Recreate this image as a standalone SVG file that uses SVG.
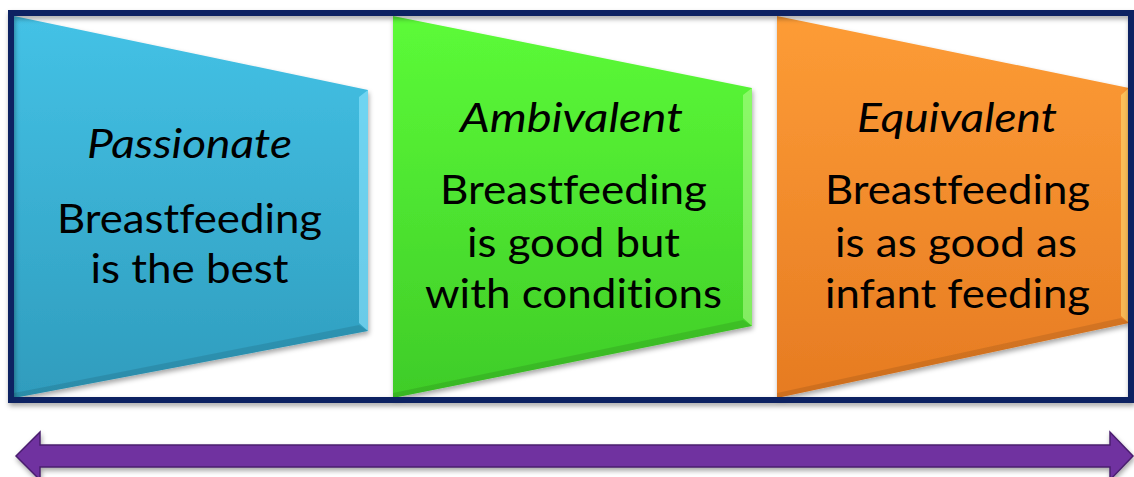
<svg xmlns="http://www.w3.org/2000/svg" width="1134" height="477" viewBox="0 0 1134 477">
<style>
text{font-variant-ligatures:none;font-feature-settings:"liga" 0}
.title{font-family:Lato,"Liberation Sans",sans-serif;font-style:italic;font-size:40px;fill:#000;text-anchor:middle}
.body{font-family:Lato,"Liberation Sans",sans-serif;font-size:41px;fill:#000;text-anchor:middle}
.bevL{fill:#ffffff;opacity:0.35}
.bevD{fill:#000000;opacity:0.1}
</style>
<defs>
<linearGradient id="gBlue" x1="0" y1="0" x2="0" y2="1">
<stop offset="0" stop-color="#44c2e6"/><stop offset="1" stop-color="#2f9cbd"/>
</linearGradient>
<linearGradient id="gGreen" x1="0" y1="0" x2="0" y2="1">
<stop offset="0" stop-color="#5cfb38"/><stop offset="1" stop-color="#3fcc28"/>
</linearGradient>
<linearGradient id="gOrange" x1="0" y1="0" x2="0" y2="1">
<stop offset="0" stop-color="#fd9c36"/><stop offset="1" stop-color="#e67b22"/>
</linearGradient>
<filter id="sh" x="-5%" y="-5%" width="110%" height="115%">
<feDropShadow dx="1" dy="3" stdDeviation="2.5" flood-color="#000" flood-opacity="0.35"/>
</filter>
</defs>
<rect width="1134" height="477" fill="#ffffff"/>

<g id="node-passionate">
<polygon points="14,16 368,90 368,331 14,398" fill="url(#gBlue)" filter="url(#sh)"/>
<polygon points="359,97 368,90 368,331 359,323" fill="#8fe6ff" opacity="0.6"/>
<polygon class="bevD" points="14,398 368,331 359,325 14,393"/>
<text class="title" x="189.5" y="158" textLength="205" lengthAdjust="spacingAndGlyphs">Passionate</text>
<text class="body" x="189.5" y="233" textLength="265" lengthAdjust="spacingAndGlyphs">Breastfeeding</text>
<text class="body" x="189.5" y="283" textLength="198" lengthAdjust="spacingAndGlyphs">is the best</text>
</g>

<g id="node-ambivalent">
<polygon points="393,16 752,88 752,326 393,398" fill="url(#gGreen)" filter="url(#sh)"/>
<polygon points="743,95 752,88 752,326 743,318" fill="#b6ff8f" opacity="0.55"/>
<polygon class="bevD" points="393,398 752,326 743,320 393,393"/>
<text class="title" x="571.5" y="132" textLength="223" lengthAdjust="spacingAndGlyphs">Ambivalent</text>
<text class="body" x="573.5" y="204" textLength="267" lengthAdjust="spacingAndGlyphs">Breastfeeding</text>
<text class="body" x="573.5" y="257" textLength="213" lengthAdjust="spacingAndGlyphs">is good but</text>
<text class="body" x="573.5" y="308" textLength="297" lengthAdjust="spacingAndGlyphs">with conditions</text>
</g>

<g id="node-equivalent">
<polygon points="777,16 1129,88 1129,323 777,398" fill="url(#gOrange)" filter="url(#sh)"/>
<polygon points="1121,95 1129,88 1129,323 1121,316" fill="#ffe27a" opacity="0.55"/>
<polygon class="bevD" points="777,398 1129,323 1121,318 777,393"/>
<text class="title" x="957" y="132" textLength="200" lengthAdjust="spacingAndGlyphs">Equivalent</text>
<text class="body" x="957.5" y="204" textLength="265" lengthAdjust="spacingAndGlyphs">Breastfeeding</text>
<text class="body" x="956" y="257" textLength="242" lengthAdjust="spacingAndGlyphs">is as good as</text>
<text class="body" x="957.5" y="308" textLength="265" lengthAdjust="spacingAndGlyphs">infant feeding</text>
</g>

<g id="frame">
<rect x="11" y="13" width="1120" height="387" fill="none" stroke="#0b2262" stroke-width="6" filter="url(#sh)"/>
</g>

<g id="connectors">
<polygon points="16,456 40,432 40,445 1110,445 1110,432 1133,456 1110,480 1110,467 40,467 40,480" fill="#7030a0" stroke="#4a1f6e" stroke-width="1.5" filter="url(#sh)"/>
</g>
</svg>
